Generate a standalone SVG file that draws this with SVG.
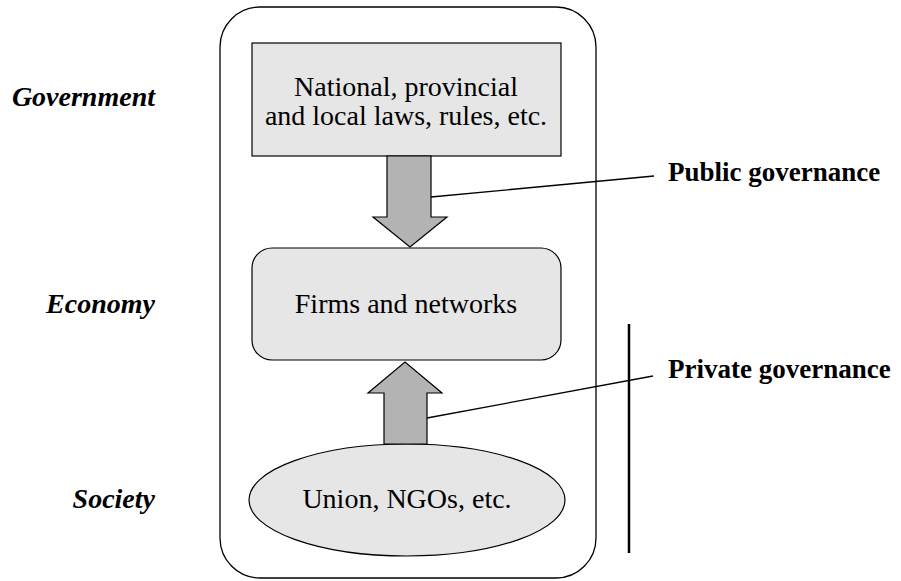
<svg xmlns="http://www.w3.org/2000/svg" width="901" height="581" viewBox="0 0 901 581">
<style>
.box{fill:#e6e6e6;stroke:#000;stroke-width:1.2}
.arrow{fill:#b3b3b3;stroke:#000;stroke-width:1.2}
.t{font-family:"Liberation Serif","Times New Roman",serif;font-size:28px;fill:#000;text-anchor:middle}
.side{font-family:"Liberation Serif","Times New Roman",serif;font-size:28px;font-weight:bold;font-style:italic;fill:#000;text-anchor:end}
.lab{font-family:"Liberation Serif","Times New Roman",serif;font-size:27px;font-weight:bold;fill:#000}
.lead{stroke:#000;stroke-width:1.3;fill:none}
</style>
<rect width="901" height="581" fill="#fff"/>
<g id="frame"><rect x="220" y="7" width="376" height="571" rx="40" ry="40" fill="none" stroke="#000" stroke-width="1.3"/></g>
<g id="side-labels">
<text class="side" x="155" y="106">Government</text>
<text class="side" x="155" y="313">Economy</text>
<text class="side" x="155" y="508">Society</text>
</g>
<g id="laws"><rect class="box" x="252" y="43" width="309" height="113"/>
<text class="t" x="406" y="96">National, provincial</text>
<text class="t" x="406" y="125">and local laws, rules, etc.</text></g>
<g id="firms"><rect class="box" x="252" y="248" width="309" height="112" rx="20" ry="20"/>
<text class="t" x="406" y="313">Firms and networks</text></g>
<g id="society"><ellipse class="box" cx="407" cy="500" rx="158" ry="56"/>
<text class="t" x="407" y="508">Union, NGOs, etc.</text></g>
<g id="connectors">
<polygon class="arrow" points="387,156 431,156 431,217 447,217 410,247 373,217 387,217"/>
<polygon class="arrow" points="384,444 427,444 427,393 442,393 405,362 368,393 384,393"/>
<line class="lead" x1="431" y1="197" x2="654" y2="176"/>
<line class="lead" x1="427" y1="418" x2="653" y2="376"/>
<line x1="629" y1="324" x2="629" y2="553" stroke="#000" stroke-width="2.5"/>
</g>
<g id="public"><text class="lab" x="668" y="181">Public governance</text></g>
<g id="private"><text class="lab" x="668" y="378">Private governance</text></g>
</svg>
